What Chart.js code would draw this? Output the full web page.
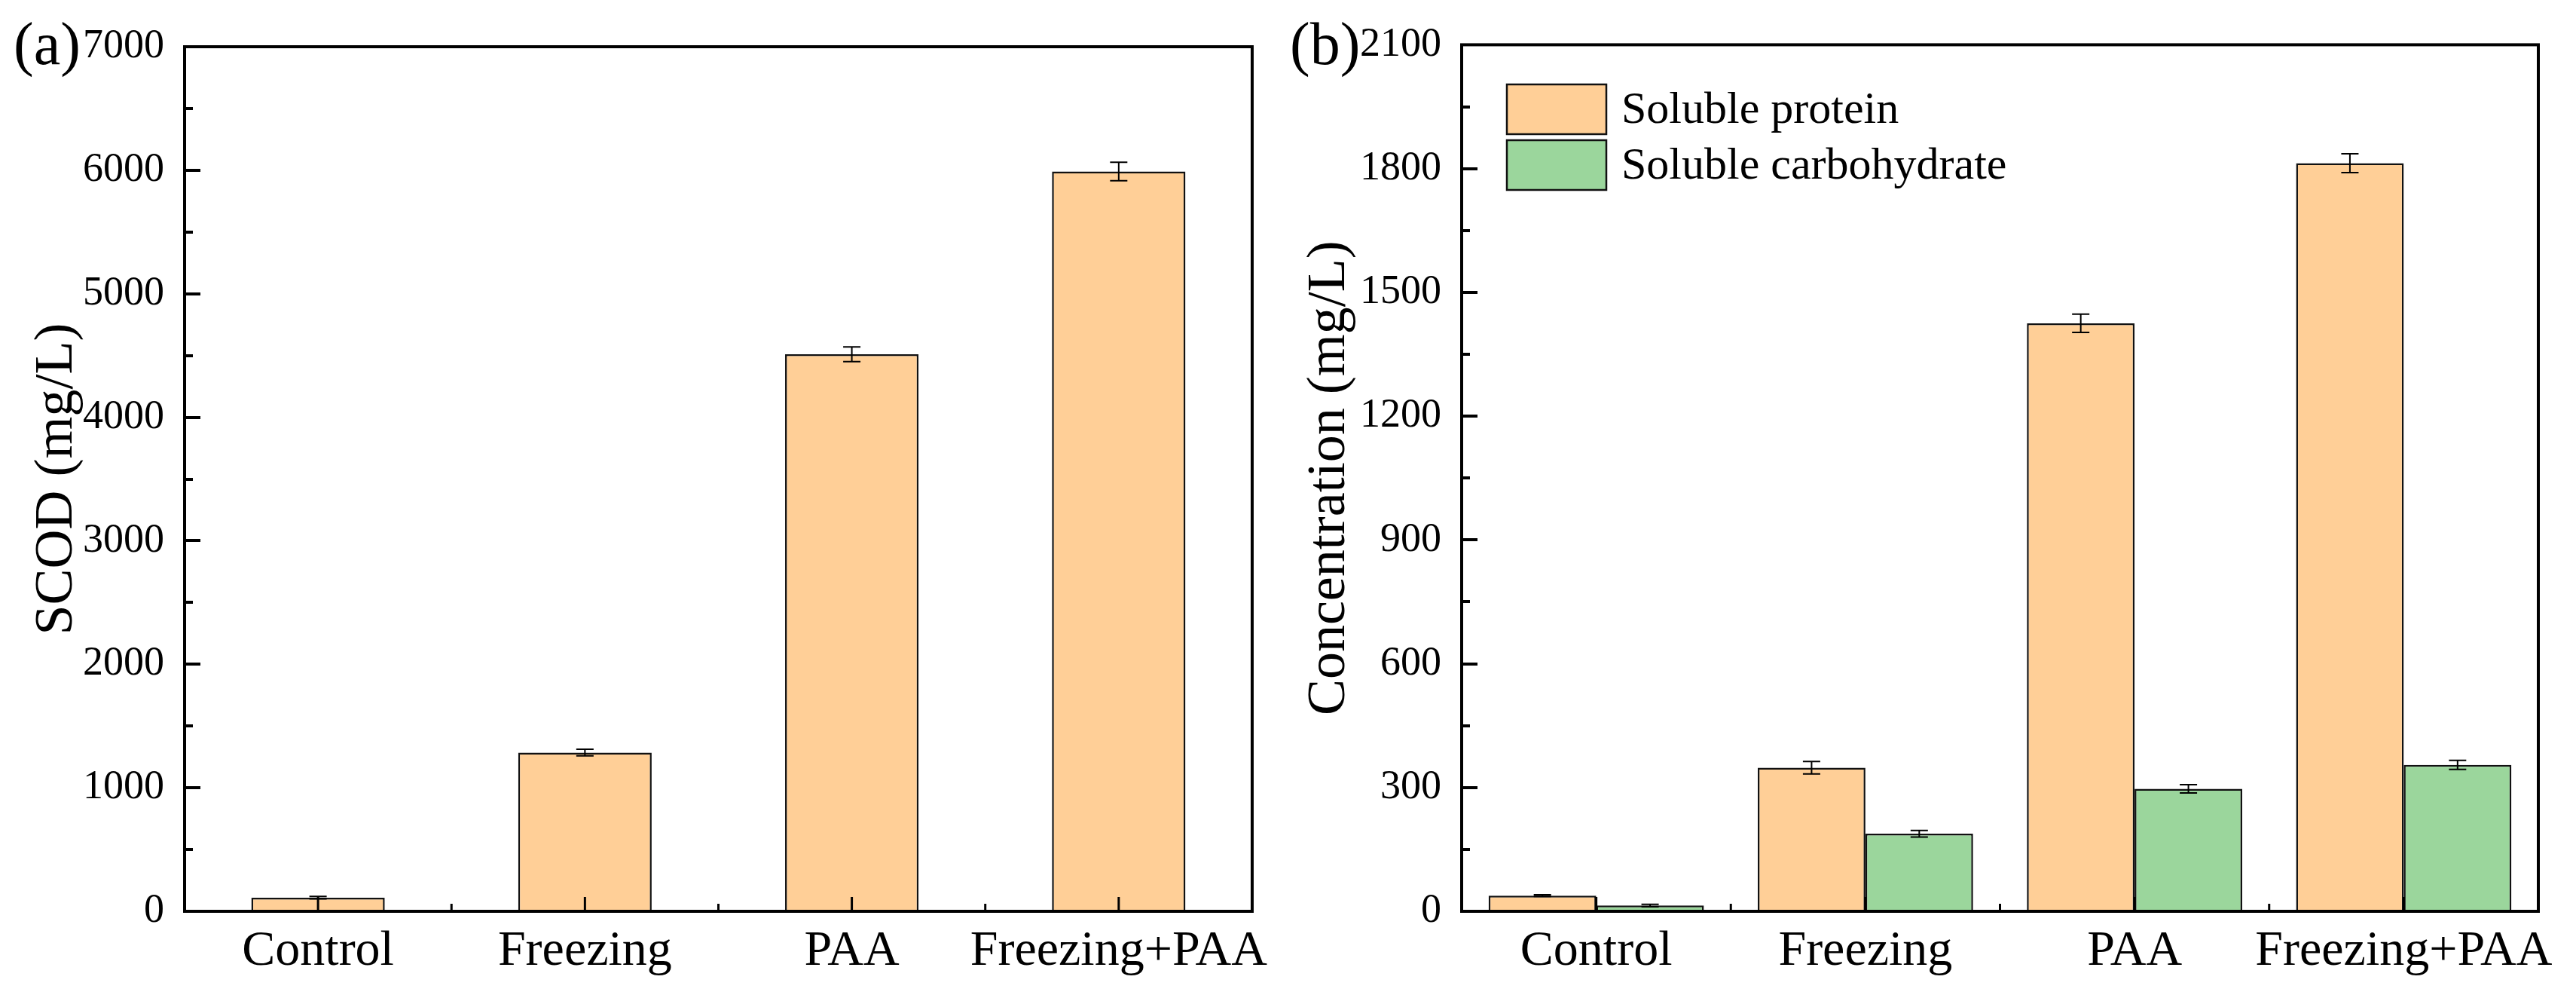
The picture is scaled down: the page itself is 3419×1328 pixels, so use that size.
<!DOCTYPE html>
<html>
<head>
<meta charset="utf-8">
<script src="https://cdn.jsdelivr.net/npm/chart.js@4.4.1/dist/chart.umd.min.js"></script>
<style>
html, body { margin: 0; padding: 0; background: #fff; }
#wrapA { position: absolute; left: 0; top: 0; width: 1700px; height: 1328px; }
#wrapB { position: absolute; left: 1700px; top: 0; width: 1719px; height: 1328px; }
</style>
</head>
<body>
<div id="wrapA"><canvas id="chartA"></canvas></div>
<div id="wrapB"><canvas id="chartB"></canvas></div>
<script>
// data
const groups = ['Control', 'Freezing', 'PAA', 'Freezing+PAA'];
const scod = [110, 1285, 4510, 5990];
const scodErr = [10, 27, 60, 75];
const protein = [38, 348, 1425, 1813];
const proteinErr = [2, 15, 22, 23];
const carb = [14, 188, 297, 355];
const carbErr = [3, 8, 10, 11];
const scodAxis = [0, 7000, 1000];
const concAxis = [0, 2100, 300];

const FONT = "'Liberation Serif', 'Times New Roman', serif";
const ORANGE = '#FFCF97';
const GREEN = '#9BD69C';

// frame, inward ticks, error bars, panel tag, legend
const framePlugin = {
  id: 'frame',
  afterDatasetsDraw(chart, args, opts) {
    const ctx = chart.ctx;
    const a = chart.chartArea;
    const x = chart.scales.x, y = chart.scales.y;
    ctx.save();

    // error bars
    ctx.strokeStyle = '#000';
    ctx.lineWidth = 2;
    chart.data.datasets.forEach(function(ds, di) {
      const meta = chart.getDatasetMeta(di);
      meta.data.forEach(function(bar, i) {
        const v = ds.data[i], e = ds.errors[i];
        const yt = y.getPixelForValue(v + e);
        const yb = y.getPixelForValue(v - e);
        ctx.beginPath();
        ctx.moveTo(bar.x, yt); ctx.lineTo(bar.x, yb);
        ctx.moveTo(bar.x - 11.5, yt); ctx.lineTo(bar.x + 11.5, yt);
        ctx.moveTo(bar.x - 11.5, yb); ctx.lineTo(bar.x + 11.5, yb);
        ctx.stroke();
      });
    });

    // ticks
    ctx.lineWidth = 4;
    ctx.lineCap = 'butt';
    const step = y.options.ticks.stepSize;
    for (let v = y.min; v <= y.max + 1e-9; v += step / 2) {
      const py = Math.round(y.getPixelForValue(v));
      const major = Math.abs(v / step - Math.round(v / step)) < 1e-6;
      if (v === y.min || v === y.max) continue;
      ctx.beginPath();
      ctx.moveTo(a.left, py);
      ctx.lineTo(a.left + (major ? 21 : 11), py);
      ctx.stroke();
    }
    ctx.lineWidth = 3;
    for (let i = 0; i < groups.length; i++) {
      const px = x.getPixelForValue(i);
      ctx.beginPath();
      ctx.moveTo(px, a.bottom);
      ctx.lineTo(px, a.bottom - 19);
      ctx.stroke();
      if (i < groups.length - 1) {
        const pm = x.getPixelForValue(i + 0.5);
        ctx.beginPath();
        ctx.moveTo(pm, a.bottom);
        ctx.lineTo(pm, a.bottom - 10);
        ctx.stroke();
      }
    }

    // frame
    ctx.lineWidth = 4;
    ctx.strokeRect(a.left, a.top, a.right - a.left, a.bottom - a.top);

    // panel tag
    ctx.fillStyle = '#000';
    ctx.font = '80px ' + FONT;
    ctx.textAlign = 'left';
    ctx.textBaseline = 'middle';
    ctx.fillText(opts.tag, opts.tagX, opts.tagY);

    // legend
    if (opts.legend) {
      const L = opts.legend;
      ctx.font = '60px ' + FONT;
      chart.data.datasets.forEach(function(ds, di) {
        const top = L.y + di * (L.h + L.gap);
        ctx.fillStyle = ds.backgroundColor;
        ctx.fillRect(L.x, top, L.w, L.h);
        ctx.lineWidth = 2.5;
        ctx.strokeStyle = '#111';
        ctx.strokeRect(L.x, top, L.w, L.h);
        ctx.fillStyle = '#000';
        ctx.fillText(ds.label, L.x + L.w + 20, top + L.h / 2 + 2);
      });
    }
    ctx.restore();
  }
};

function makeChart(id, datasets, axis, title, dims, frameOpts) {
  return new Chart(document.getElementById(id), {
    type: 'bar',
    data: { labels: groups, datasets: datasets },
    options: {
      responsive: true,
      maintainAspectRatio: false,
      animation: false,
      layout: { padding: { left: 0, top: dims.top, right: dims.right, bottom: 0 } },
      plugins: {
        legend: { display: false },
        tooltip: { enabled: false },
        frame: frameOpts
      },
      scales: {
        x: {
          offset: true,
          grid: { display: false, drawTicks: false },
          border: { display: false },
          ticks: {
            color: '#000', padding: 14, autoSkip: false, maxRotation: 0, minRotation: 0,
            font: { family: FONT, size: 66, lineHeight: 1.2 }
          },
          afterFit: function(s) { s.height = 119; }
        },
        y: {
          min: axis[0], max: axis[1],
          grid: { display: false, drawTicks: false },
          border: { display: false },
          ticks: {
            stepSize: axis[2], color: '#000', padding: 27,
            font: { family: FONT, size: 54 },
            callback: function(v) { return String(v); }
          },
          title: {
            display: true, text: title, color: '#000',
            font: { family: FONT, size: 72, lineHeight: 1.2 },
            padding: { top: dims.titlePad, bottom: 0 }
          },
          afterFit: function(s) { s.width = dims.yWidth; }
        }
      }
    },
    plugins: [framePlugin]
  });
}

makeChart('chartA', [{
    label: 'SCOD',
    data: scod, errors: scodErr,
    backgroundColor: ORANGE, borderColor: '#111', borderWidth: 2.5,
    barPercentage: 0.5, categoryPercentage: 1.0
  }], scodAxis, 'SCOD (mg/L)',
  { top: 62, right: 33, yWidth: 245, titlePad: 33 },
  { tag: '(a)', tagX: 18, tagY: 64 });

makeChart('chartB', [{
    label: 'Soluble protein',
    data: protein, errors: proteinErr,
    backgroundColor: ORANGE, borderColor: '#111', borderWidth: 2.5,
    barPercentage: 1.0, categoryPercentage: 0.8
  }, {
    label: 'Soluble carbohydrate',
    data: carb, errors: carbErr,
    backgroundColor: GREEN, borderColor: '#111', borderWidth: 2.5,
    barPercentage: 1.0, categoryPercentage: 0.8
  }], concAxis, 'Concentration (mg/L)',
  { top: 56, right: 50, yWidth: 240, titlePad: 22 },
  { tag: '(b)', tagX: 12, tagY: 64, legend: { x: 300, y: 112, w: 132, h: 66, gap: 8 } });
</script>
</body>
</html>
